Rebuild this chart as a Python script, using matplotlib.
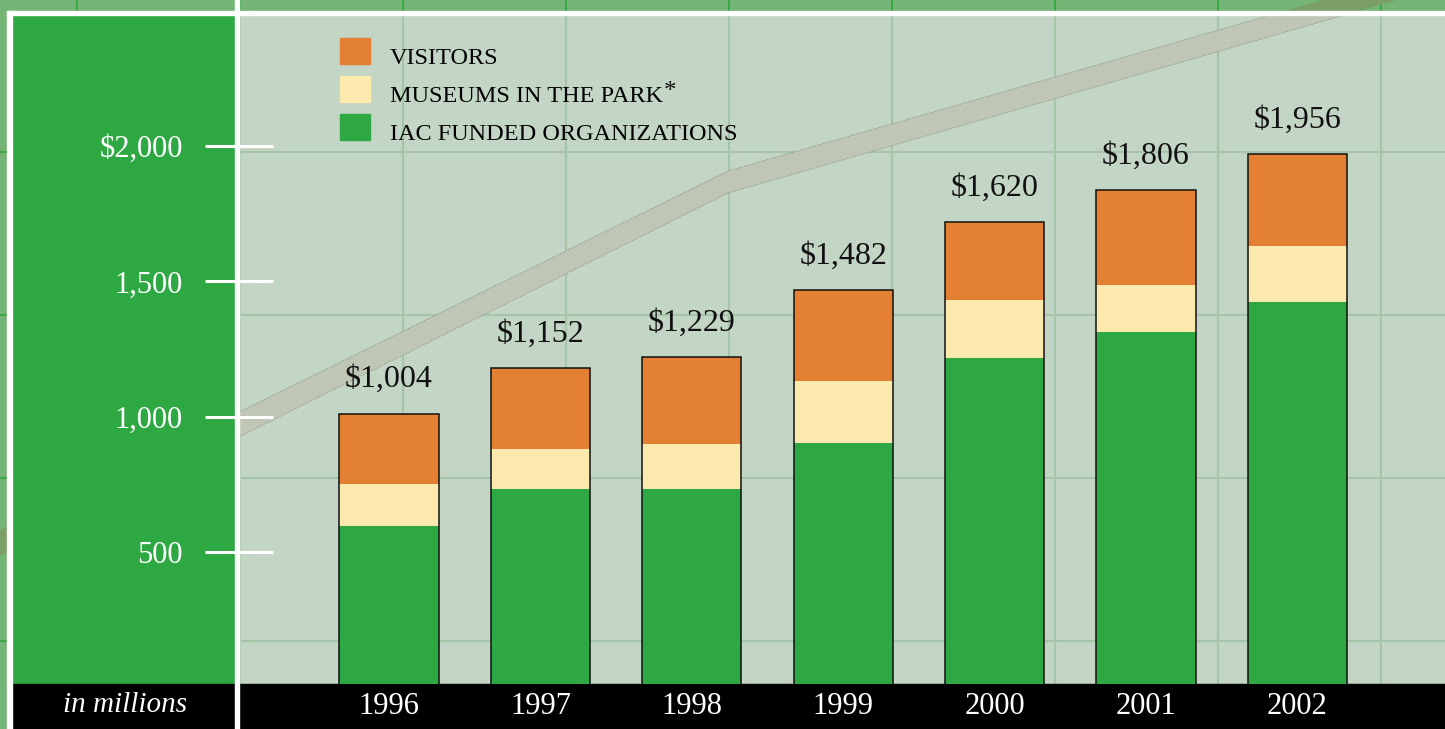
import matplotlib
matplotlib.use('Agg')
import matplotlib.pyplot as plt
from matplotlib.patches import Rectangle, Polygon, Patch
from matplotlib.transforms import ScaledTranslation

# values (in millions)
years = ['1996', '1997', '1998', '1999', '2000', '2001', '2002']
iac_funded = [598, 733, 733, 903, 1216, 1313, 1424]
museums = [154, 148, 166, 229, 215, 174, 207]
visitors = [260, 300, 322, 336, 287, 350, 340]
total_labels = ['$1,004', '$1,152', '$1,229', '$1,482', '$1,620', '$1,806', '$1,956']
ytick_vals = [500, 1000, 1500, 2000]
ytick_labels = ['500', '1,000', '1,500', '$2,000']

GREEN = '#2ea842'
YELLOW = '#fbe9ad'
ORANGE = '#e38034'
PLOT_BG = '#c3d5c5'

plt.rcParams['font.family'] = ['Liberation Serif', 'DejaVu Serif']

W, H = 1445, 729
fig = plt.figure(figsize=(14.45, 7.29), dpi=100)

#------------------------------------------------------------------------------
# decorative background, in pixel coordinates
bg = fig.add_axes([0, 0, 1, 1])
bg.set_xlim(0, W)
bg.set_ylim(H, 0)
bg.axis('off')
bg.add_patch(Rectangle((0, 0), W, H, color='#74b474', zorder=0))
for gx in range(77, W, 163):
    bg.vlines(gx, 0, H, color='#3aa844', lw=1.4, zorder=1)
for gy in range(-11, H, 163):
    bg.hlines(gy, 0, W, color='#3aa844', lw=1.4, zorder=1)

top_edge = [(0, 530), (728, 171), (W, -35)]
bot_edge = [(W, -14), (728, 193), (0, 556)]
bg.add_patch(Polygon(top_edge + bot_edge, closed=True, color='#7b9f65', lw=0, zorder=2))

plot_rect = Rectangle((239, 15), W - 239, 684 - 15, color=PLOT_BG, zorder=3)
bg.add_patch(plot_rect)
for gx in range(240, W, 163):
    bg.vlines(gx, 15, 684, color='#a5c4a8', lw=1.5, zorder=4)
for gy in range(152, 684, 163):
    bg.hlines(gy, 239, W, color='#a5c4a8', lw=1.5, zorder=4)
band = Polygon(top_edge + bot_edge, closed=True, color='#c0c6b6', lw=0, zorder=5)
bg.add_patch(band)
band.set_clip_path(plot_rect)
for edge in (top_edge, bot_edge):
    ln, = bg.plot([p[0] for p in edge], [p[1] for p in edge], color='#8e9a88',
                  lw=0.6, ls=(0, (2, 1.5)), zorder=6)
    ln.set_clip_path(plot_rect)

bg.add_patch(Rectangle((12, 15), 222.5, 684 - 15, color=GREEN, zorder=7))
bg.add_patch(Rectangle((12, 684), W - 12, H - 684, color='black', zorder=7))
bg.add_patch(Rectangle((7, 11), W - 7, 4, color='white', zorder=8))
bg.add_patch(Rectangle((7, 11), 5, H - 11, color='white', zorder=8))
bg.add_patch(Rectangle((234.5, 0), 4.5, H, color='white', zorder=8))
bg.text(125, 705, 'in millions', color='white', fontsize=21, style='italic',
        ha='center', va='center', zorder=9)

#------------------------------------------------------------------------------
# data axes
y0_px, scale = 687.5, 0.2707          # pixel of value 0, pixels per million
ax = fig.add_axes([239 / W, (H - 684) / H, (W - 239) / W, (684 - 15) / H])
ax.patch.set_alpha(0)
ax.set_ylim((y0_px - 684) / scale, (y0_px - 15) / scale)
ax.set_xlim(-(389 - 239) / 151.4, (W - 389) / 151.4)
for s in ax.spines.values():
    s.set_visible(False)

x = list(range(len(years)))
w = 0.654
ax.bar(x, iac_funded, width=w, color=GREEN, lw=0)
bottom2 = [a for a in iac_funded]
ax.bar(x, museums, width=w, bottom=bottom2, color=YELLOW, lw=0)
bottom3 = [a + b for a, b in zip(iac_funded, museums)]
ax.bar(x, visitors, width=w, bottom=bottom3, color=ORANGE, lw=0)
totals = [a + b + c for a, b, c in zip(iac_funded, museums, visitors)]
ax.bar(x, totals, width=w, fill=False, edgecolor='#111111', lw=1.1)

for xi, t, lab in zip(x, totals, total_labels):
    ax.annotate(lab, xy=(xi, t), xytext=(0, 19), textcoords='offset points',
                ha='center', va='baseline', fontsize=23, color='#111111')

ax.set_yticks(ytick_vals, ytick_labels)
ax.tick_params(axis='y', direction='inout', length=49, width=2.2, colors='white',
               pad=16, labelsize=22)
ax.set_xticks(x, years)
ax.tick_params(axis='x', length=0, pad=6, labelsize=22, labelcolor='white')

handles = [Patch(color=ORANGE, label='VISITORS'),
           Patch(color=YELLOW, label='MUSEUMS IN THE PARK'),
           Patch(color=GREEN, label='IAC FUNDED ORGANIZATIONS')]
leg = ax.legend(handles=handles, loc='upper left', bbox_to_anchor=(340 / W, 1 - 38 / H),
                bbox_transform=fig.transFigure, frameon=False, fontsize=17.5,
                handlelength=1.25, handleheight=1.25, handletextpad=0.8,
                labelspacing=0.5, borderpad=0, borderaxespad=0)
# sit the legend text a little lower, like the reference
for t in leg.get_texts():
    t.set_transform(t.get_transform() + ScaledTranslation(0, -3.5 / 72, fig.dpi_scale_trans))

# superscript asterisk after the second legend entry
fig.canvas.draw()
bb = leg.get_texts()[1].get_window_extent()
fig.text(bb.x1 + 1, bb.y1 + 5, '*', transform=None, ha='left', va='top',
         fontsize=18, color='#111111')

fig.savefig('out.png', dpi=100)
